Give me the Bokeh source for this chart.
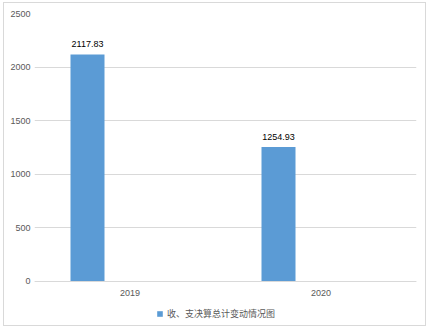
from bokeh.plotting import figure
from bokeh.models import FactorRange, Range1d, ColumnDataSource, Legend, LegendItem, FixedTicker
from bokeh.transform import dodge
from bokeh.core.properties import value
from bokeh.embed import file_html
from bokeh.resources import INLINE

categories = ["2019", "2020"]
values = [2117.83, 1254.93]
labels = ["2117.83", "1254.93"]
series_name = "收、支决算总计变动情况图"
y_ticks = [0, 500, 1000, 1500, 2000, 2500]

src = ColumnDataSource(dict(cat=categories, val=values, lab=labels))

# frame spans down to the legend; the value axis runs 0..2500, the x axis sits at 0
p = figure(width=423, height=324, x_range=FactorRange(*categories, range_padding=0),
           y_range=Range1d(-382.5, 2500), output_backend="svg", toolbar_location=None,
           min_border_left=30, min_border_right=11, min_border_top=10, min_border_bottom=5)
p.styles = {"border": "1px solid #d9d9d9", "margin-left": "3px", "margin-top": "2px"}
p.outline_line_color = None
p.background_fill_color = "white"
p.border_fill_color = "white"

r = p.vbar(x=dodge("cat", -0.2225, range=p.x_range), top="val", width=0.178, source=src,
           fill_color="#5b9bd5", line_color=None)
p.text(x=dodge("cat", -0.2225, range=p.x_range), y="val", text="lab", source=src,
       text_align="center", text_baseline="bottom", y_offset=-7,
       text_font=value("Liberation Sans"), text_font_size="9px", text_color="black")

p.yaxis.ticker = FixedTicker(ticks=y_ticks)
p.yaxis.axis_line_color = None
p.yaxis.major_tick_line_color = None
p.yaxis.minor_tick_line_color = None
p.yaxis.major_tick_out = 0
p.yaxis.major_tick_in = 0
p.yaxis.minor_tick_out = 0
p.yaxis.major_label_text_font = "Liberation Sans"
p.yaxis.major_label_text_font_size = "9px"
p.yaxis.major_label_text_color = "#595959"
p.yaxis.major_label_standoff = 4

p.xaxis.fixed_location = 0
p.xaxis.axis_line_color = "#d9d9d9"
p.xaxis.major_tick_line_color = None
p.xaxis.minor_tick_line_color = None
p.xaxis.major_tick_out = 0
p.xaxis.major_tick_in = 0
p.xaxis.minor_tick_out = 0
p.xaxis.major_label_text_font = "Liberation Sans"
p.xaxis.major_label_text_font_size = "9px"
p.xaxis.major_label_text_color = "#595959"
p.xaxis.major_label_standoff = 9

p.xgrid.grid_line_color = None
p.ygrid.grid_line_color = "#d9d9d9"
p.ygrid.ticker = FixedTicker(ticks=y_ticks)

legend = Legend(items=[LegendItem(label=series_name, renderers=[r])],
                location=(122, 2), orientation="horizontal",
                padding=0, margin=0, border_line_color=None, background_fill_alpha=0,
                glyph_width=7, glyph_height=7, label_height=10, label_standoff=4,
                label_text_font="Noto Sans CJK SC", label_text_font_size="9px",
                label_text_color="#595959")
p.add_layout(legend, "center")

open("out.html", "w").write(file_html(p, INLINE))
